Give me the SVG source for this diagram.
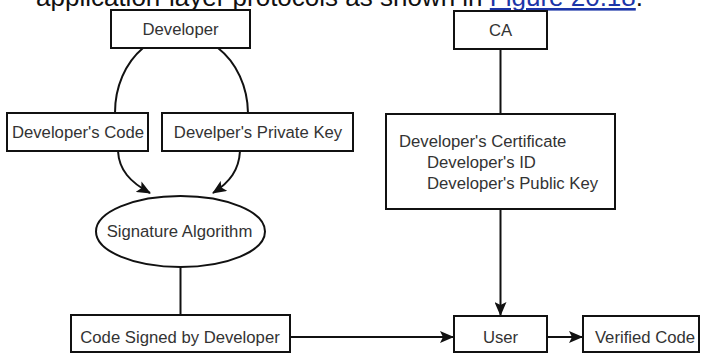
<svg xmlns="http://www.w3.org/2000/svg" width="701" height="353" viewBox="0 0 701 353">
<defs>
<style>
.box{fill:#fff;stroke:#111;stroke-width:2}
.lbl{font-family:"Liberation Sans",Arial,sans-serif;font-size:16.7px;fill:#333}
.c{text-anchor:middle}
.con{fill:none;stroke:#111;stroke-width:2}
.hdr{font-family:"Liberation Sans",Arial,sans-serif;font-size:26px;fill:#111}
</style>
<marker id="ah" viewBox="0 0 14 12" refX="13" refY="6" markerWidth="14" markerHeight="12" markerUnits="userSpaceOnUse" orient="auto">
<path d="M0,0 L14,6 L0,12 L3,6 z" fill="#111"/>
</marker>
</defs>
<rect width="701" height="353" fill="#fff"/>
<text class="hdr" x="36" y="6">application-layer protocols as shown in <tspan fill="#1c35a8" text-decoration="underline">Figure 20.18</tspan>.</text>
<g id="connectors">
<path class="con" d="M143,48 A66.5,79 0 0 0 115,113"/>
<path class="con" d="M218,48 A66.5,79 0 0 1 248,113"/>
<path class="con" d="M118,151 C119,170 130,182 150,193" marker-end="url(#ah)"/>
<path class="con" d="M240,151 C239,170 230,182 213,193" marker-end="url(#ah)"/>
<path class="con" d="M180.5,267 L180.5,315"/>
<path class="con" d="M500.5,49 L500.5,114"/>
<path class="con" d="M500.5,209 L500.5,315" marker-end="url(#ah)"/>
<path class="con" d="M290,337 L453,337" marker-end="url(#ah)"/>
<path class="con" d="M547,337 L582,337" marker-end="url(#ah)"/>
</g>
<g id="developer"><rect class="box" x="111" y="10" width="139" height="38"/><text class="lbl c" x="180.5" y="35">Developer</text></g>
<g id="ca"><rect class="box" x="454" y="11" width="93" height="38"/><text class="lbl c" x="500.5" y="36">CA</text></g>
<g id="dev-code"><rect class="box" x="7" y="113" width="141" height="38"/><text class="lbl c" x="78" y="138">Developer's Code</text></g>
<g id="dev-key"><rect class="box" x="162" y="113" width="191" height="38"/><text class="lbl c" x="258" y="138">Develper's Private Key</text></g>
<g id="certificate"><rect class="box" x="386" y="114" width="229" height="95"/>
<text class="lbl" x="399" y="147">Developer's Certificate</text>
<text class="lbl" x="427" y="167.5">Developer's ID</text>
<text class="lbl" x="427" y="188.5">Developer's Public Key</text></g>
<g id="signature"><ellipse class="box" cx="180.5" cy="231.5" rx="84.5" ry="35.5"/><text class="lbl c" x="179.5" y="237">Signature Algorithm</text></g>
<g id="signed-code"><rect class="box" x="71" y="315" width="219" height="37"/><text class="lbl c" x="180" y="343">Code Signed by Developer</text></g>
<g id="user"><rect class="box" x="454" y="316" width="93" height="36"/><text class="lbl c" x="500.5" y="343">User</text></g>
<g id="verified"><rect class="box" x="583" y="316" width="116" height="36"/><text class="lbl c" x="645" y="343">Verified Code</text></g>
</svg>
